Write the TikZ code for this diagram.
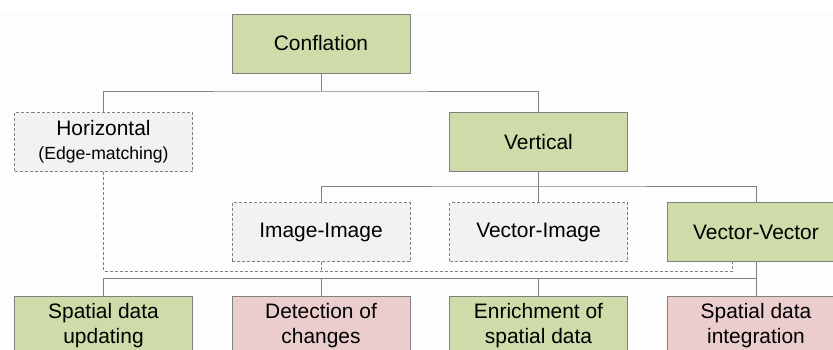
\documentclass[tikz,border=0pt]{standalone}
\usepackage{fontspec}
\setmainfont{Liberation Sans}
\definecolor{boxgreen}{RGB}{205,220,169}
\definecolor{boxred}{RGB}{236,205,205}
\definecolor{boxgray}{RGB}{242,242,242}
\definecolor{linegray}{RGB}{128,128,128}
\definecolor{paper}{RGB}{253,253,253}
\tikzset{
  box/.style={draw=linegray, line width=0.75pt, minimum width=133.5pt,
    minimum height=44.25pt, inner sep=2pt, align=center,
    font=\fontsize{15.7}{18.8}\selectfont},
  goodbox/.style={box, fill=boxgreen},
  badbox/.style={box, fill=boxred},
  optbox/.style={box, fill=boxgray, dash pattern=on 2.25pt off 1.5pt},
  link/.style={draw=linegray, line width=0.75pt},
  optlink/.style={link, dash pattern=on 2.25pt off 1.5pt},
}
\begin{document}
\begin{tikzpicture}[x=0.75pt,y=-0.75pt]
  % Frame
  \useasboundingbox (0,0) rectangle (833,350);
  \clip (0,0) rectangle (833,350);
  \fill[paper] (0,12) rectangle (833,350);

  % Top
  \node[goodbox] (conf) at (321,43.5) {Conflation};

  % Horizontal / vertical
  \node[optbox] (horiz) at (103.5,142) {Horizontal\\[-1pt]{\fontsize{13.2}{15}\selectfont(Edge-matching)}};
  \node[goodbox] (vert) at (538.5,142) {Vertical};

  % Data types
  \node[optbox] (imim) at (321,232) {Image-Image};
  \node[optbox] (vecim) at (538.5,232) {Vector-Image};
  \node[goodbox] (vecvec) at (756,232) {Vector-Vector};

  % Applications
  \node[goodbox] (upd) at (103.5,326) {Spatial data\\updating};
  \node[badbox] (det) at (321,326) {Detection of\\changes};
  \node[goodbox] (enr) at (538.5,326) {Enrichment of\\spatial data};
  \node[badbox] (integ) at (756,326) {Spatial data\\integration};

  % Tree lines
  \coordinate (bus1) at (321,91);
  \draw[link] (conf.south) -- (bus1);
  \draw[link] (horiz.north) |- (bus1) -| (vert.north);

  \coordinate (bus2) at (538.5,186);
  \draw[link] (vert.south) -- (bus2);
  \draw[link] (imim.north) |- (bus2) -| (vecvec.north);
  \draw[link] (vecim.north) -- (bus2);

  % Dashed links
  \coordinate (opt) at (732,271);
  \draw[optlink] (horiz.south) |- (opt) -- (opt |- vecvec.south);
  \draw[optlink] (imim.south) -- (imim.south |- opt);

  % Links to applications
  \coordinate (bus3) at (756,278);
  \draw[link] (vecvec.south) -- (integ.north);
  \draw[link] (upd.north) |- (bus3);
  \draw[link] (det.north) -- (det.north |- bus3);
  \draw[link] (enr.north) -- (enr.north |- bus3);
\end{tikzpicture}
\end{document}
